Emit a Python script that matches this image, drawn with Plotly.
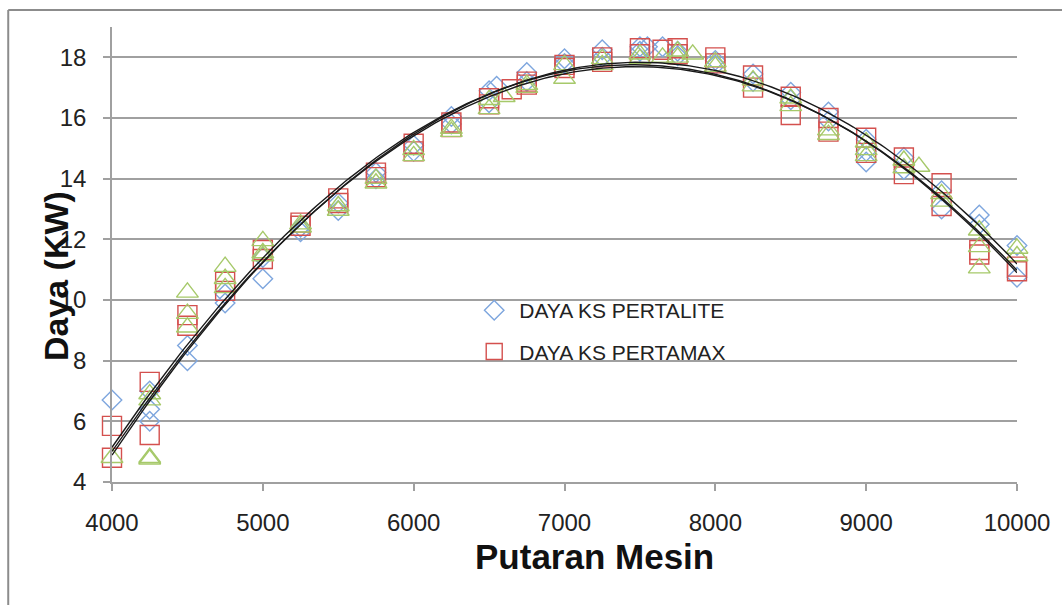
import numpy as np
import plotly.graph_objects as go

# ---------------- data ----------------
rpm_pertalite = [4000, 4250, 4250, 4250, 4500, 4500, 4750, 4750, 5000, 5000,
                 5250, 5250, 5500, 5500, 5750, 5750, 6000, 6000, 6250, 6250,
                 6500, 6500, 6550, 6750, 6750, 7000, 7000, 7250, 7250, 7500,
                 7500, 7550, 7650, 7750, 7750, 8000, 8000, 8250, 8250, 8500,
                 8500, 8750, 8750, 9000, 9000, 9000, 9250, 9250, 9500, 9500,
                 9750, 9750, 10000, 10000]
daya_pertalite = [6.7, 7.0, 6.4, 6.0, 8.5, 8.0, 10.2, 9.9, 11.4, 10.7,
                  12.4, 12.25, 13.2, 12.95, 14.2, 14.0, 15.1, 14.9, 16.05, 15.8,
                  16.9, 16.5, 17.05, 17.5, 17.2, 17.95, 17.8, 18.25, 18.0, 18.35,
                  18.2, 18.35, 18.35, 18.2, 18.05, 17.9, 17.75, 17.45, 17.2, 16.85,
                  16.6, 16.2, 15.9, 15.3, 14.9, 14.55, 14.7, 14.3, 13.6, 13.0,
                  12.8, 12.5, 11.8, 10.75]

rpm_pertamax = [4000, 4000, 4250, 4250, 4500, 4500, 4750, 4750, 5000, 5000,
                5250, 5250, 5500, 5500, 5750, 5750, 6000, 6000, 6250, 6250,
                6500, 6500, 6650, 6750, 6750, 7000, 7000, 7250, 7250, 7500,
                7500, 7650, 7750, 7750, 8000, 8000, 8250, 8250, 8500, 8500,
                8750, 8750, 9000, 9000, 9250, 9250, 9500, 9500, 9750, 9750,
                10000, 10000]
daya_pertamax = [5.85, 4.8, 7.3, 5.55, 9.5, 9.15, 10.6, 10.3, 11.65, 11.35,
                 12.55, 12.45, 13.35, 13.2, 14.2, 14.05, 15.15, 14.9, 15.85, 15.7,
                 16.65, 16.45, 16.95, 17.2, 17.1, 17.75, 17.65, 18.0, 17.85, 18.3,
                 18.1, 18.25, 18.3, 18.1, 18.0, 17.8, 17.4, 17.0, 16.7, 16.1,
                 16.0, 15.55, 15.35, 14.85, 14.7, 14.15, 13.85, 13.1, 11.65, 11.5,
                 11.1, 10.95]

rpm_third = [4000, 4250, 4250, 4250, 4250, 4500, 4500, 4500, 4750, 4750,
             4750, 5000, 5000, 5000, 5250, 5250, 5500, 5500, 5750, 5750,
             6000, 6000, 6250, 6250, 6500, 6500, 6600, 6750, 6750, 7000,
             7000, 7250, 7250, 7500, 7500, 7650, 7750, 7750, 7850, 8000,
             8000, 8250, 8250, 8500, 8500, 8750, 8750, 9000, 9000, 9000,
             9250, 9250, 9350, 9500, 9500, 9750, 9750, 9750, 10000, 10000]
daya_third = [4.8, 6.9, 6.7, 4.8, 4.75, 10.25, 9.55, 9.1, 11.1, 10.7,
              10.4, 11.95, 11.55, 11.45, 12.5, 12.4, 13.1, 12.95, 14.0, 13.85,
              14.95, 14.75, 15.65, 15.55, 16.6, 16.3, 16.7, 17.1, 17.0, 17.75,
              17.3, 17.95, 17.75, 18.1, 17.95, 18.0, 18.2, 18.0, 18.1, 17.85,
              17.7, 17.25, 17.05, 16.65, 16.4, 15.6, 15.45, 15.2, 14.95, 14.75,
              14.6, 14.35, 14.4, 13.5, 13.25, 12.3, 11.75, 11.05, 11.7, 11.45]

series_names = ["DAYA KS PERTALITE", "DAYA KS PERTAMAX", ""]
x_ticks = [4000, 5000, 6000, 7000, 8000, 9000, 10000]
x_ticktext = ["4000", "5000", "6000", "7000", "8000", "9000", "10000"]
y_ticks = [4, 6, 8, 10, 12, 14, 16, 18]
x_title = "Putaran Mesin"
y_title = "Daya (KW)"

# ---------------- figure ----------------
fig = go.Figure()

styles = [
    dict(symbol="diamond-open", size=15, color="#7EA6DE"),
    dict(symbol="square-open", size=19, color="#D4504E"),
    dict(symbol="triangle-up-open", size=19, color="#A6C96A"),
]
datasets = [(rpm_pertalite, daya_pertalite), (rpm_pertamax, daya_pertamax), (rpm_third, daya_third)]

for i, ((xs, ys), st, name) in enumerate(zip(datasets, styles, series_names)):
    fig.add_trace(go.Scatter(
        x=xs, y=ys, mode="markers", name=name, cliponaxis=False,
        showlegend=bool(name), legendgroup=f"g{i}",
        marker=dict(symbol=st["symbol"], size=st["size"],
                    line=dict(color=st["color"], width=1.4), color=st["color"]),
    ))

# polynomial (order 2) trendlines fitted to each series
xx = np.linspace(4000, 10000, 200)
for i, (xs, ys) in enumerate(datasets):
    c = np.polyfit(np.array(xs, float), np.array(ys, float), 2)
    fig.add_trace(go.Scatter(x=xx, y=np.polyval(c, xx), mode="lines",
                             line=dict(color="#1a1a1a", width=1.4),
                             showlegend=False, hoverinfo="skip"))

tick_font = dict(family="Liberation Sans, Arial", size=24, color="#222")

L, R, T, B = 112, 1019, 27, 482
W, H = R - L, B - T


def px(x):
    return (x - L) / W


def py(y):
    return (B - y) / H


fig.update_layout(
    width=1062, height=605,
    margin=dict(l=L, r=1062 - R, t=T, b=605 - B),
    paper_bgcolor="white", plot_bgcolor="white",
    showlegend=True,
    legend=dict(x=px(470), y=py(290), xanchor="left", yanchor="top",
                bgcolor="rgba(0,0,0,0)", traceorder="grouped", tracegroupgap=11,
                itemwidth=40,
                font=dict(family="Liberation Sans, Arial", size=21, color="#222")),
    xaxis=dict(range=[4000, 10000], tickvals=x_ticks, ticktext=x_ticktext,
               ticks="outside", ticklen=7,
               tickcolor="#A0A0A0", tickwidth=1.5, showline=True, linecolor="#A0A0A0",
               linewidth=1.5, showgrid=False, zeroline=False, tickfont=tick_font,
               ticklabelstandoff=11),
    yaxis=dict(range=[4, 19.0], tickvals=y_ticks, ticks="outside", ticklen=7,
               tickcolor="#A0A0A0", tickwidth=1.5, showline=True, linecolor="#A0A0A0",
               linewidth=1.5, showgrid=True, gridcolor="#A0A0A0", gridwidth=1.5,
               zeroline=False, tickfont=tick_font, ticklabelstandoff=12),
    annotations=[
        dict(text=f"<b>{x_title}</b>", xref="paper", yref="paper",
             x=px(596), y=py(556), xanchor="center", yanchor="middle",
             showarrow=False, font=dict(family="Liberation Sans, Arial", size=35, color="#111")),
        dict(text=f"<b>{y_title}</b>", xref="paper", yref="paper", textangle=-90,
             x=px(56), y=py(276), xanchor="center", yanchor="middle",
             showarrow=False, font=dict(family="Liberation Sans, Arial", size=34, color="#111")),
    ],
    shapes=[
        dict(type="line", xref="paper", yref="paper",
             x0=px(8), x1=px(8), y0=py(10), y1=py(610),
             line=dict(color="#8C8C8C", width=2)),
        dict(type="line", xref="paper", yref="paper",
             x0=px(8), x1=px(1070), y0=py(10), y1=py(10),
             line=dict(color="#8C8C8C", width=2)),
    ],
)

fig.write_html("out.html", config={"displayModeBar": False},
               post_script="document.body.style.margin='0px';document.body.style.overflow='hidden';")
